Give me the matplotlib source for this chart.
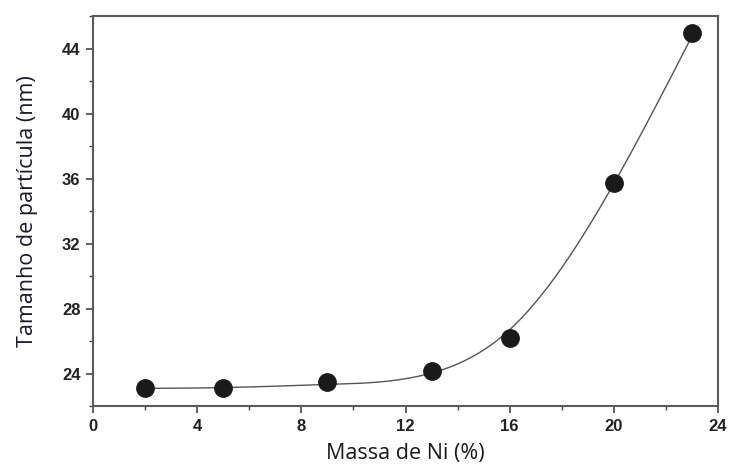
import matplotlib
matplotlib.use("Agg")
import matplotlib.pyplot as plt
import numpy as np
from matplotlib.ticker import MultipleLocator

# data
ni_mass = np.array([2, 5, 9, 13, 16, 20, 23], dtype=float)
particle_size = np.array([23.1, 23.1, 23.5, 24.15, 26.2, 35.7, 44.95])


def smoothing_spline(x, y, lam, xs):
    # natural cubic smoothing spline (Reinsch)
    n = len(x)
    h = np.diff(x)
    Q = np.zeros((n, n - 2))
    R = np.zeros((n - 2, n - 2))
    for j in range(1, n - 1):
        Q[j - 1, j - 1] = 1 / h[j - 1]
        Q[j, j - 1] = -1 / h[j - 1] - 1 / h[j]
        Q[j + 1, j - 1] = 1 / h[j]
        R[j - 1, j - 1] = (h[j - 1] + h[j]) / 3
        if j < n - 2:
            R[j - 1, j] = R[j, j - 1] = h[j] / 6
    gam = np.linalg.solve(R + lam * Q.T @ Q, Q.T @ y)
    f = y - lam * Q @ gam
    M = np.concatenate([[0], gam, [0]])
    i = np.clip(np.searchsorted(x, xs) - 1, 0, n - 2)
    hi = h[i]
    a = x[i + 1] - xs
    b = xs - x[i]
    return (M[i] * a ** 3 / (6 * hi) + M[i + 1] * b ** 3 / (6 * hi)
            + (f[i] - M[i] * hi ** 2 / 6) * a / hi
            + (f[i + 1] - M[i + 1] * hi ** 2 / 6) * b / hi)


x_fit = np.linspace(ni_mass.min(), ni_mass.max(), 400)
y_fit = smoothing_spline(ni_mass, particle_size, 3.0, x_fit)

fig = plt.figure(figsize=(7.33, 4.71), dpi=100)
ax = fig.add_axes([0.127, 0.138, 0.8525, 0.828])

ax.plot(x_fit, y_fit, color="#555555", lw=1.0, zorder=2)
ax.plot(ni_mass, particle_size, "o", color="#1a1a1a", ms=12.5, zorder=3)

ax.set_xlim(0, 24)
ax.set_ylim(22, 46)
ax.xaxis.set_major_locator(MultipleLocator(4))
ax.xaxis.set_minor_locator(MultipleLocator(2))
ax.yaxis.set_minor_locator(MultipleLocator(2))
ax.set_yticks([24, 28, 32, 36, 40, 44])
ax.tick_params(which="major", direction="out", length=5, width=1.2, color="#444444", pad=4)
ax.tick_params(which="minor", direction="out", length=3, width=1.0, color="#444444")
for lab in ax.get_xticklabels() + ax.get_yticklabels():
    lab.set_fontfamily("Liberation Sans")
    lab.set_fontweight("bold")
    lab.set_fontsize(12)
    lab.set_color("#222222")

for sp in ax.spines.values():
    sp.set_color("#5a5a5a")
    sp.set_linewidth(1.5)

ax.set_xlabel("Massa de Ni (%)", fontfamily="Open Sans", fontsize=15.5, color="#1a1a1a", labelpad=7)
ax.set_ylabel("Tamanho de partícula (nm)", fontfamily="Open Sans", fontsize=15.5, color="#1a1a2a", labelpad=17)

fig.savefig("out.png", dpi=100)
